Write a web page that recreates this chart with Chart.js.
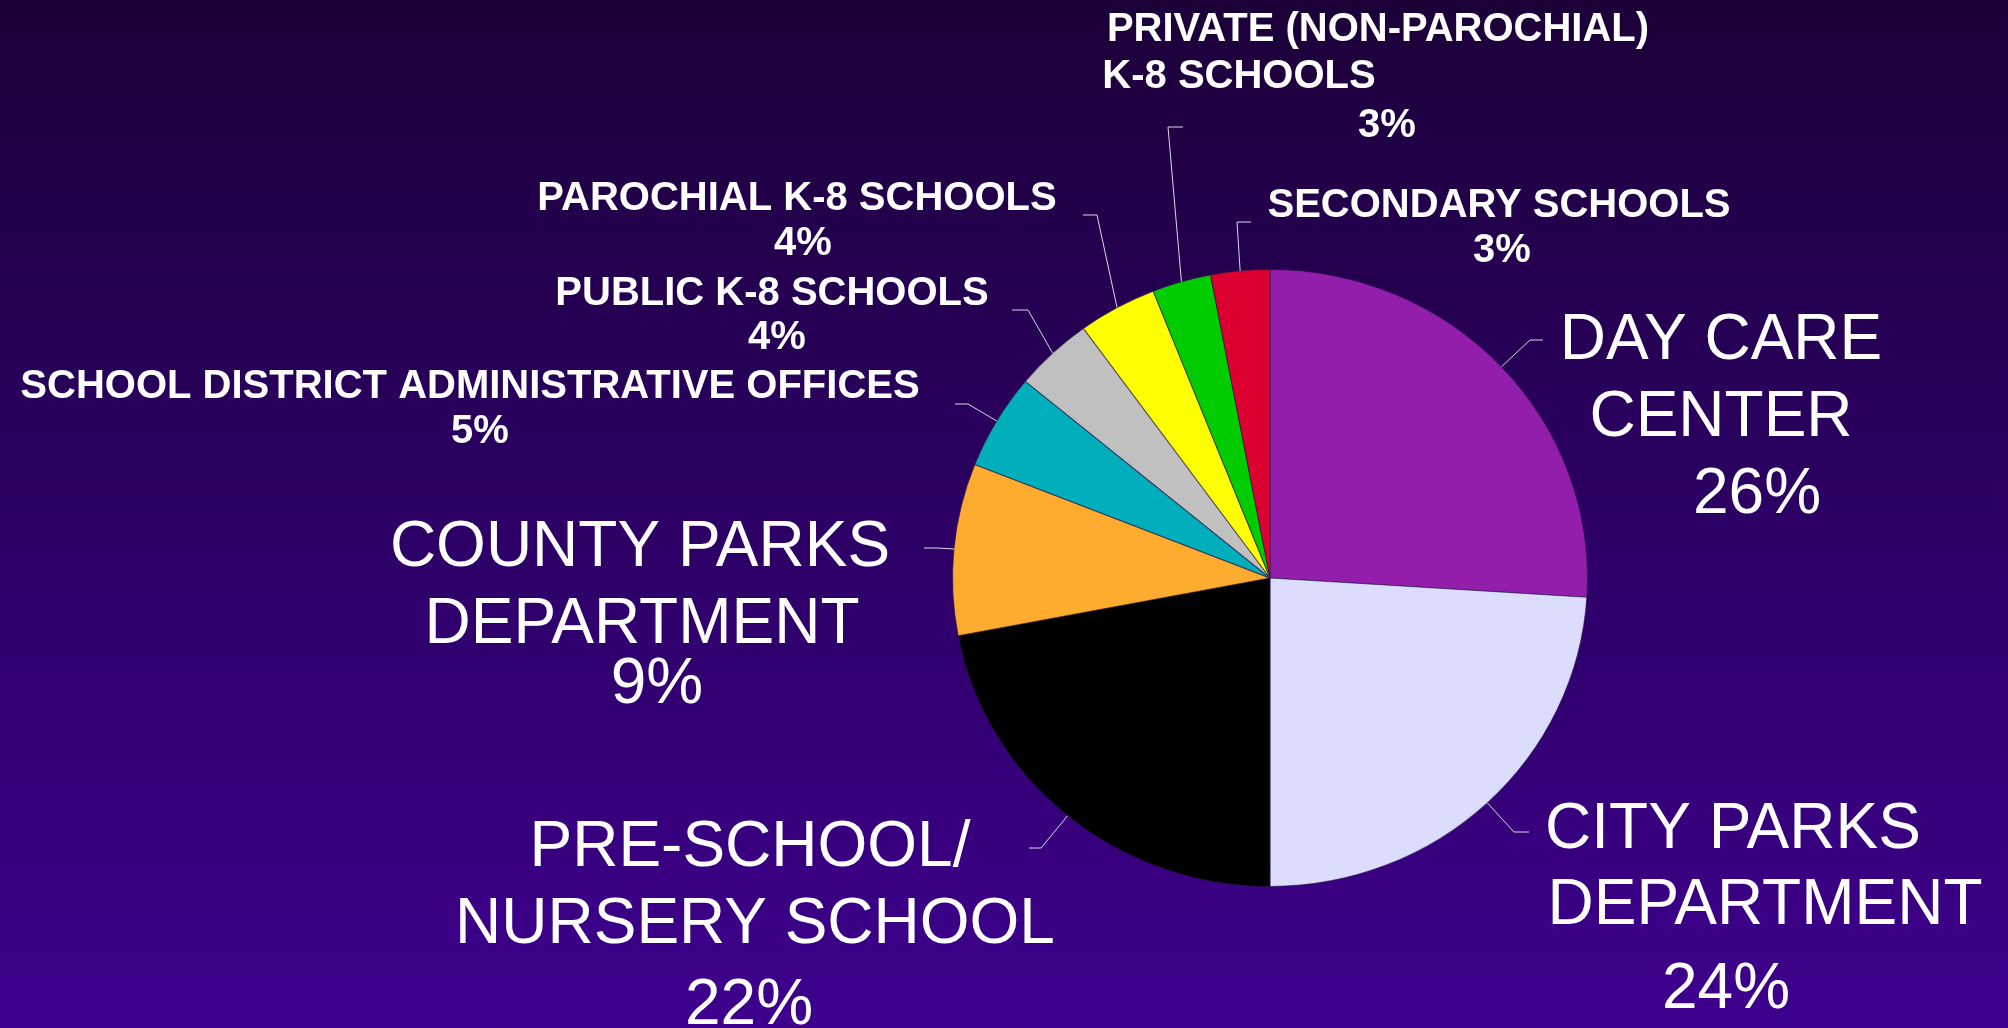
<!DOCTYPE html>
<html>
<head>
<meta charset="utf-8">
<script src="https://cdn.jsdelivr.net/npm/chart.js@4.4.0/dist/chart.umd.min.js"></script>
<style>
  html, body { margin: 0; padding: 0; width: 2008px; height: 1028px; overflow: hidden; }
  body { background: linear-gradient(to bottom, #1c0038 0%, #2c0064 50%, #3e008e 100%); }
  canvas { display: block; }
</style>
</head>
<body>
<canvas id="pie" width="2008" height="1028"></canvas>
<script>
// slices, clockwise from 12 o'clock
const categories = [
  'DAY CARE\nCENTER',
  'CITY PARKS\nDEPARTMENT',
  'PRE-SCHOOL/\nNURSERY SCHOOL',
  'COUNTY PARKS\nDEPARTMENT',
  'SCHOOL DISTRICT ADMINISTRATIVE OFFICES',
  'PUBLIC K-8 SCHOOLS',
  'PAROCHIAL K-8 SCHOOLS',
  'PRIVATE (NON-PAROCHIAL)\nK-8 SCHOOLS',
  'SECONDARY SCHOOLS'
]
const shares = [26, 24, 22, 9, 5, 4, 4, 3, 3]
const sliceColors = ['#931eab', '#dcdcfc', '#000000', '#fdac2f', '#00aebc', '#c0c0c0', '#ffff00', '#00cc00', '#dc0030']

// the original pie is a touch wider than tall
const stretchX = 1.029

// where each label sits: leader elbow, end of the short horizontal tick, centre of every text line
const labelLayout = [
  { big: true,  elbow: [1530, 340], end: 1543, lines: [[1721, 336], [1721, 413], [1757, 490]] },
  { big: true,  elbow: [1514, 832], end: 1529, lines: [[1733, 825], [1765, 901], [1726, 985]] },
  { big: true,  elbow: [1041, 848], end: 1029, lines: [[750, 843], [755, 920], [749, 1001]] },
  { big: true,  elbow: [937, 548],  end: 924,  lines: [[640, 543], [642, 620], [657, 680]] },
  { big: false, elbow: [968, 404],  end: 955,  lines: [[470, 384], [480, 429]] },
  { big: false, elbow: [1028, 310], end: 1012, lines: [[772, 291], [777, 335]] },
  { big: false, elbow: [1097, 215], end: 1083, lines: [[797, 196], [803, 241]] },
  { big: false, elbow: [1168, 127], end: 1183, lines: [[1378, 27], [1239, 74], [1387, 123]] },
  { big: false, elbow: [1237, 222], end: 1251, lines: [[1499, 203], [1502, 248]] }
]

const stretchPie = {
  id: 'stretchPie',
  beforeDatasetsDraw(chart) {
    const arc = chart.getDatasetMeta(0).data[0]
    const ctx = chart.ctx
    ctx.save()
    ctx.translate(arc.x, 0)
    ctx.scale(stretchX, 1)
    ctx.translate(-arc.x, 0)
  },
  afterDatasetsDraw(chart) {
    chart.ctx.restore()
  }
}

const sliceLabels = {
  id: 'sliceLabels',
  afterDatasetsDraw(chart) {
    const ctx = chart.ctx
    const arcs = chart.getDatasetMeta(0).data
    ctx.save()
    arcs.forEach((arc, i) => {
      const p = arc.getProps(['x', 'y', 'startAngle', 'endAngle', 'outerRadius'], true)
      const mid = (p.startAngle + p.endAngle) / 2
      const sx = p.x + Math.cos(mid) * p.outerRadius * stretchX
      const sy = p.y + Math.sin(mid) * p.outerRadius
      const lay = labelLayout[i]

      ctx.strokeStyle = '#d8d8e8'
      ctx.lineWidth = 1
      ctx.beginPath()
      ctx.moveTo(sx, sy)
      ctx.lineTo(lay.elbow[0], lay.elbow[1])
      ctx.lineTo(lay.end, lay.elbow[1])
      ctx.stroke()

      const size = lay.big ? 64 : 40
      ctx.font = (lay.big ? '' : 'bold ') + size + 'px "Liberation Sans", Arial, sans-serif'
      ctx.fillStyle = '#ffffff'
      ctx.textAlign = 'center'
      ctx.textBaseline = 'alphabetic'
      const text = categories[i].split('\n').concat([shares[i] + '%'])
      text.forEach((t, k) => {
        const [x, y] = lay.lines[k]
        ctx.fillText(t, x, y + size * 0.355)
      })
    })
    ctx.restore()
  }
}

new Chart(document.getElementById('pie'), {
  type: 'pie',
  data: {
    labels: categories,
    datasets: [{
      data: shares,
      backgroundColor: sliceColors,
      borderColor: 'rgba(40, 20, 70, 0.6)',
      borderWidth: 1
    }]
  },
  options: {
    responsive: false,
    animation: false,
    devicePixelRatio: 1,
    layout: { padding: { left: 961, right: 429, top: 269, bottom: 141 } },
    plugins: {
      legend: { display: false },
      tooltip: { enabled: false }
    }
  },
  plugins: [stretchPie, sliceLabels]
})
</script>
</body>
</html>
